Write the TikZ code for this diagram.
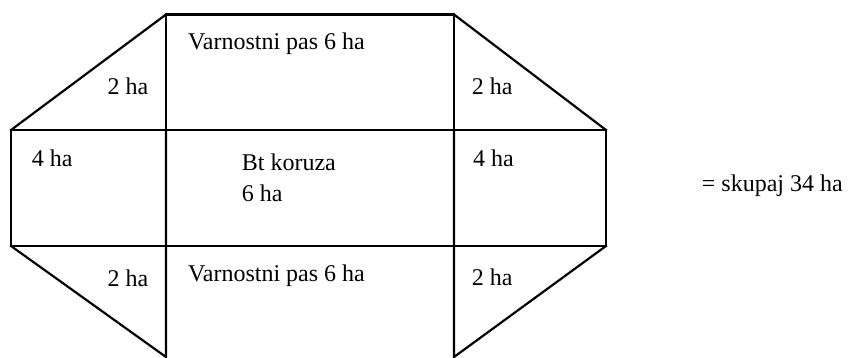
\documentclass[tikz,border=0pt]{standalone}
\usepackage{fontspec}
\setmainfont{Liberation Serif}
\begin{document}
\begin{tikzpicture}[x=1pt,y=-1pt,
  edge/.style={line width=2.2pt,line join=miter,line cap=rect},
  lbl/.style={anchor=base west,inner sep=0pt,font=\fontsize{24}{30.7}\selectfont}]
\useasboundingbox (0,0) rectangle (858,358);
% corner points of the field plan
\coordinate (A) at (166,14.5);
\coordinate (B) at (454,14.5);
\coordinate (L1) at (11,130);
\coordinate (R1) at (606,130);
\coordinate (L2) at (11,246);
\coordinate (R2) at (606,246);
\coordinate (C) at (166,357);
\coordinate (D) at (454,357);
\coordinate (M1) at (166,130);
\coordinate (M2) at (454,130);
% outline and partitions
\draw[edge] (M1) -- (A) -- (B) -- (M2);
\draw[edge] (L1) -- (A);
\draw[edge] (B) -- (R1);
\draw[edge] (L1) -- (R1) -- (R2) -- (L2) -- cycle;
\draw[edge] (L2) -- (C) -- (M1);
\draw[edge] (R2) -- (D) -- (M2);
% area labels
\node[lbl] (t1) at (188,49.3) {Varnostni pas 6 ha};
\node[lbl] (t2) at (107.5,94.3) {2 ha};
\node[lbl] (t3) at (471.7,94.3) {2 ha};
\node[lbl] (t4) at (31.7,166) {4 ha};
\node[lbl] (t5) at (473,166) {4 ha};
\node[lbl] (t6) at (241.7,171) {Bt koruza};
\node[lbl] (t6b) at (241.7,201.7) {6 ha};
\node[lbl] (t7) at (188,281.7) {Varnostni pas 6 ha};
\node[lbl] (t8) at (107.5,286) {2 ha};
\node[lbl] (t9) at (471.7,285.7) {2 ha};
\node[lbl] (t10) at (701.7,191) {= skupaj 34 ha};
\end{tikzpicture}
\end{document}
